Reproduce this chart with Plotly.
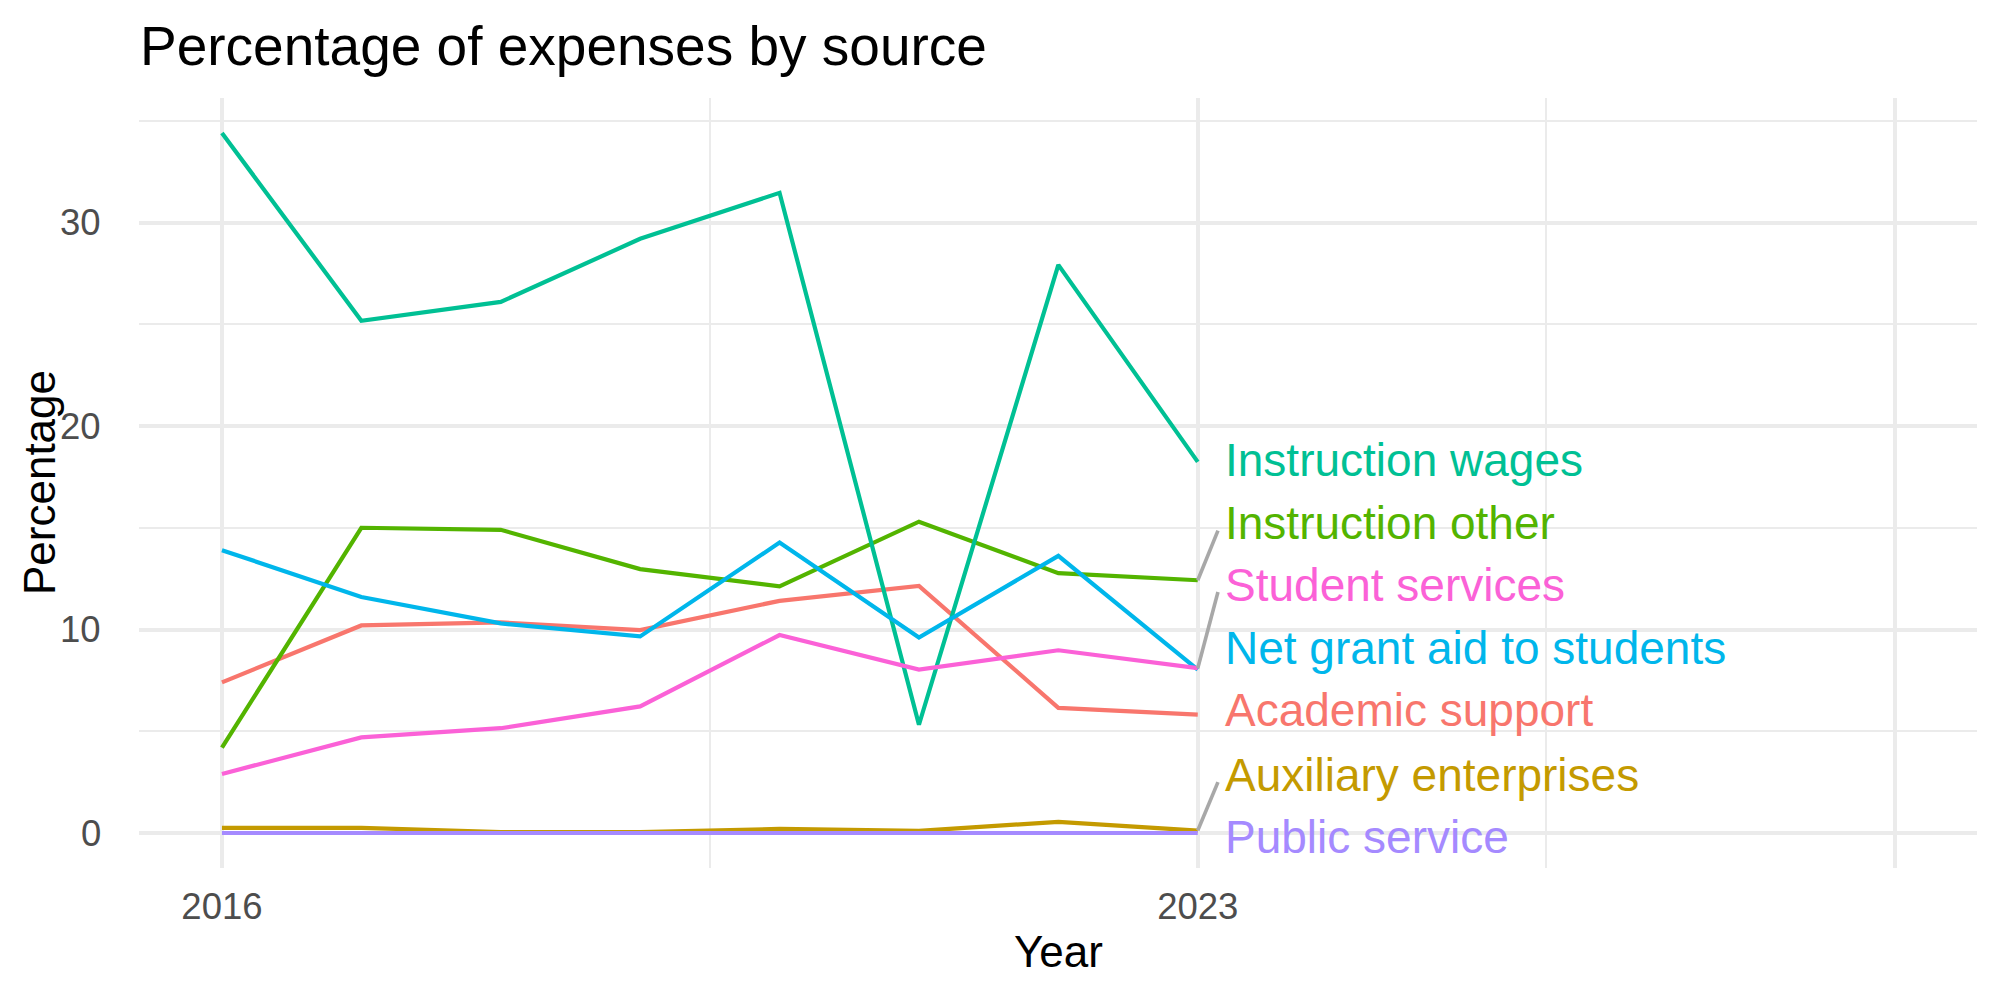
import plotly.graph_objects as go

# ---- data ----
years = [2016, 2017, 2018, 2019, 2020, 2021, 2022, 2023]

academic_support = [7.4, 10.2, 10.35, 9.97, 11.41, 12.14, 6.15, 5.82]
auxiliary_enterprises = [0.25, 0.25, 0.05, 0.05, 0.2, 0.1, 0.55, 0.12]
instruction_other = [4.2, 15.0, 14.9, 12.97, 12.12, 15.30, 12.77, 12.42]
instruction_wages = [34.4, 25.17, 26.1, 29.2, 31.46, 5.32, 27.92, 18.24]
net_grant_aid = [13.9, 11.6, 10.3, 9.66, 14.27, 9.61, 13.62, 8.03]
public_service = [0, 0, 0, 0, 0, 0, 0, 0]
student_services = [2.9, 4.7, 5.15, 6.22, 9.73, 8.03, 8.98, 8.1]

series_names = ["Academic support", "Auxiliary enterprises", "Instruction other",
                "Instruction wages", "Net grant aid to students", "Public service",
                "Student services"]
series_values = [academic_support, auxiliary_enterprises, instruction_other,
                 instruction_wages, net_grant_aid, public_service, student_services]

# repelled label positions (y, data units) as placed in the reference
label_y = [6.04, 2.87, 15.23, 18.33, 9.07, -0.20, 12.21]

x_tickvals = [2016, 2023, 2028]
x_ticktext = ["2016", "2023", ""]
y_tickvals = [0, 10, 20, 30]

# ---- styles ----
colors = ["#F8766D", "#C49A00", "#53B400", "#00C094", "#00B6EB", "#A58AFF", "#FB61D7"]
FONT = "Liberation Sans, Arial, Helvetica, sans-serif"
GRID = "#EBEBEB"
TICKFONT = dict(family=FONT, size=36.5, color="#4D4D4D")

fig = go.Figure()
for name, vals, col in zip(series_names, series_values, colors):
    fig.add_trace(go.Scatter(x=years, y=vals, mode="lines", name=name,
                             line=dict(color=col, width=4.2), showlegend=False))

last_x = years[-1]
seg_dx = 0.145
for name, vals, col, ly in zip(series_names, series_values, colors, label_y):
    end_v = vals[-1]
    if abs(ly - end_v) > 1.5:
        fig.add_trace(go.Scatter(x=[last_x, last_x + seg_dx], y=[end_v, ly - 0.37],
                                 mode="lines", line=dict(color="#A8A8A8", width=3.6),
                                 showlegend=False, hoverinfo="skip"))
    fig.add_annotation(x=last_x, y=ly, xref="x", yref="y", text=name,
                       showarrow=False, xanchor="left", yanchor="middle",
                       xshift=25, font=dict(family=FONT, size=46, color=col))

# y tick labels
for v in y_tickvals:
    fig.add_annotation(x=0, y=v, xref="paper", yref="y", text=str(v),
                       showarrow=False, xanchor="right", yanchor="middle",
                       xshift=-36, font=TICKFONT)

# axis titles
fig.add_annotation(x=0.5, y=-0.108, xref="paper", yref="paper", text="Year",
                   showarrow=False, xanchor="center", yanchor="middle",
                   font=dict(family=FONT, size=44, color="black"))
fig.add_annotation(x=-0.0544, y=0.5, xref="paper", yref="paper", text="Percentage",
                   showarrow=False, textangle=-90, xanchor="center", yanchor="middle",
                   font=dict(family=FONT, size=44, color="black"))

fig.update_layout(
    width=2000, height=1000,
    paper_bgcolor="white", plot_bgcolor="white",
    margin=dict(l=139, r=23, t=98, b=132),
    title=dict(text="Percentage of expenses by source", x=0.07, xanchor="left",
               xref="container", y=0.954, yref="container", yanchor="middle",
               font=dict(family=FONT, size=55, color="black")),
    xaxis=dict(range=[2015.405, 2028.59], tickmode="array", tickvals=x_tickvals,
               ticktext=x_ticktext, showgrid=True, gridcolor=GRID, gridwidth=3.8,
               zeroline=False, showline=False, ticks="", ticklabelstandoff=13,
               tickfont=TICKFONT,
               minor=dict(tickmode="array", tickvals=[2019.5, 2025.5], showgrid=True,
                          gridcolor=GRID, gridwidth=1.9, ticks="")),
    yaxis=dict(range=[-1.72, 36.12], tickmode="array", tickvals=y_tickvals,
               showgrid=True, gridcolor=GRID, gridwidth=3.8,
               zeroline=False, showline=False, ticks="", showticklabels=False,
               minor=dict(tickmode="array", tickvals=[5, 15, 25, 35], showgrid=True,
                          gridcolor=GRID, gridwidth=1.9, ticks="")),
)

fig.write_html("out.html")
